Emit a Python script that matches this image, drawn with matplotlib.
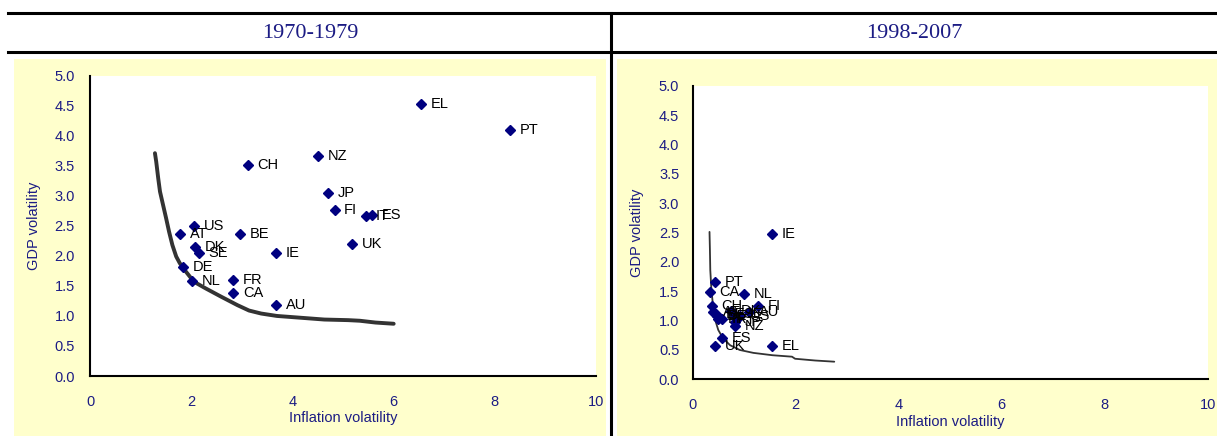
import matplotlib.pyplot as plt
from matplotlib.patches import Rectangle
from matplotlib.lines import Line2D

# 1970-1979: inflation volatility vs GDP volatility by country
countries_70s = ['EL', 'PT', 'NZ', 'CH', 'JP', 'FI', 'IT', 'ES', 'US', 'AT',
                 'BE', 'DK', 'UK', 'SE', 'IE', 'DE', 'NL', 'FR', 'CA', 'AU']
infl_70s = [6.54, 8.30, 4.51, 3.11, 4.71, 4.83, 5.46, 5.57, 2.06, 1.78,
            2.96, 2.08, 5.18, 2.15, 3.67, 1.83, 2.02, 2.83, 2.83, 3.67]
gdp_70s = [4.53, 4.10, 3.66, 3.52, 3.05, 2.76, 2.66, 2.68, 2.50, 2.36,
           2.36, 2.15, 2.19, 2.05, 2.04, 1.82, 1.59, 1.60, 1.39, 1.18]
frontier_x_70s = [1.28, 1.305, 1.345, 1.38, 1.44, 1.50, 1.56, 1.625, 1.70, 1.77,
                  1.89, 2.05, 2.28, 2.59, 2.91, 3.14, 3.38, 3.69, 4.16, 4.63,
                  5.10, 5.33, 5.64, 6.00]
frontier_y_70s = [3.71, 3.57, 3.29, 3.07, 2.85, 2.63, 2.40, 2.18, 1.99, 1.88,
                  1.74, 1.57, 1.46, 1.32, 1.18, 1.09, 1.04, 1.00, 0.97, 0.94,
                  0.93, 0.92, 0.89, 0.87]

# 1998-2007
countries_00s = ['IE', 'PT', 'CA', 'NL', 'CH', 'FI', 'EL', 'UK', 'ES', 'NZ',
                 'JP', 'AT', 'BE', 'DE', 'FR', 'IT', 'DK', 'SE', 'US', 'AU']
infl_00s = [1.54, 0.44, 0.33, 1.00, 0.37, 1.28, 1.54, 0.44, 0.58, 0.83,
            0.83, 0.40, 0.45, 0.47, 0.50, 0.58, 0.75, 0.80, 0.92, 1.10]
gdp_00s = [2.47, 1.66, 1.49, 1.46, 1.25, 1.25, 0.57, 0.57, 0.70, 0.91,
           0.97, 1.15, 1.12, 1.08, 1.02, 1.02, 1.17, 1.12, 1.07, 1.15]
frontier_x_00s = [0.33, 0.338, 0.345, 0.367, 0.40, 0.44, 0.50, 0.59, 0.73, 0.915,
                  1.18, 1.55, 1.93, 1.99, 2.38, 2.75]
frontier_y_00s = [2.51, 2.20, 1.86, 1.52, 1.24, 1.01, 0.84, 0.70, 0.58, 0.50,
                  0.45, 0.41, 0.385, 0.35, 0.32, 0.30]

periods = ['1970-1979', '1998-2007']
x_ticks = [0, 2, 4, 6, 8, 10]
y_ticks = [0.0, 0.5, 1.0, 1.5, 2.0, 2.5, 3.0, 3.5, 4.0, 4.5, 5.0]

navy = '#000080'
text_navy = '#1c1c84'
panel_yellow = '#ffffcc'

plt.rcParams['font.family'] = ['Liberation Sans', 'DejaVu Sans']

W, H = 1217, 436
fig = plt.figure(figsize=(W / 100, H / 100), dpi=100)


def px(x0, y0, x1, y1):
    # pixel box (top-left origin) -> figure fraction rect
    return [x0 / W, 1 - y1 / H, (x1 - x0) / W, (y1 - y0) / H]


# yellow panels behind each chart
for x0, x1 in [(14, 606), (617, 1217)]:
    r = px(x0, 59, x1, 436)
    fig.patches.append(Rectangle((r[0], r[1]), r[2], r[3], transform=fig.transFigure,
                                 facecolor=panel_yellow, edgecolor='none', zorder=-5))

# table rules
for yy in (13.5, 52.5):
    fig.add_artist(Line2D([8 / W, 1], [1 - yy / H] * 2, color='black', lw=2.2))
fig.add_artist(Line2D([611 / W] * 2, [1 - 13 / H, 0], color='black', lw=2.2))

# period headers
fig.text(310 / W, 1 - 33 / H, periods[0], ha='center', va='center',
         family='Liberation Serif', fontsize=16, color=text_navy)
fig.text(914 / W, 1 - 33 / H, periods[1], ha='center', va='center',
         family='Liberation Serif', fontsize=16, color=text_navy)

panels = [
    dict(rect=px(90.2, 75.7, 596, 376), xs=infl_70s, ys=gdp_70s, names=countries_70s,
         fx=frontier_x_70s, fy=frontier_y_70s, lw=2.8, ylab_x=-0.097, xlab_y=-0.117,
         xpad=14, ypad=11),
    dict(rect=px(692.5, 85.7, 1208, 379.3), xs=infl_00s, ys=gdp_00s, names=countries_00s,
         fx=frontier_x_00s, fy=frontier_y_00s, lw=1.3, ylab_x=-0.094, xlab_y=-0.122,
         xpad=13.5, ypad=9.5),
]

for p in panels:
    ax = fig.add_axes(p['rect'])
    ax.set_zorder(1)
    ax.set_facecolor('white')
    ax.plot(p['fx'], p['fy'], color='#333333', lw=p['lw'], solid_capstyle='round',
            solid_joinstyle='round', zorder=2)
    ax.plot(p['xs'], p['ys'], linestyle='none', marker='D', markersize=5,
            color=navy, zorder=3)
    for name, xv, yv in zip(p['names'], p['xs'], p['ys']):
        ax.annotate(name, (xv, yv), xytext=(7, 0), textcoords='offset points',
                    va='center', ha='left', fontsize=10.5, color='black', zorder=4)
    ax.set_xlim(0, 10)
    ax.set_ylim(0, 5)
    ax.set_xticks(x_ticks)
    ax.set_yticks(y_ticks)
    ax.set_yticklabels([f'{v:.1f}' for v in y_ticks])
    ax.tick_params(axis='both', length=0, labelsize=10.5, labelcolor=text_navy)
    ax.tick_params(axis='x', pad=p['xpad'])
    ax.tick_params(axis='y', pad=p['ypad'])
    for side in ('top', 'right'):
        ax.spines[side].set_visible(False)
    for side in ('left', 'bottom'):
        ax.spines[side].set_linewidth(1.5)
        ax.spines[side].set_color('black')
    ax.set_xlabel('Inflation volatility', fontsize=10.5, color=text_navy)
    ax.set_ylabel('GDP volatility', fontsize=10.5, color=text_navy)
    ax.xaxis.set_label_coords(0.5, p['xlab_y'])
    ax.yaxis.set_label_coords(p['ylab_x'], 0.5)

fig.savefig('out.png', dpi=100)
